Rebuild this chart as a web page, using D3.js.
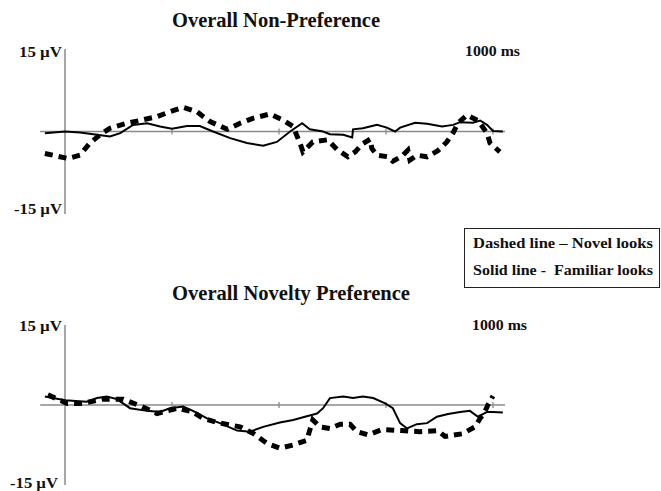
<!DOCTYPE html>
<html><head><meta charset="utf-8">
<script src="https://cdn.jsdelivr.net/npm/d3@7"></script>
<style>body{margin:0;background:#fff}svg{display:block}text{font-family:"Liberation Serif","Times New Roman",serif;font-weight:bold;fill:#111;white-space:pre}</style>
</head><body><svg id="c" width="661" height="491"></svg>
<script>
// ---- data (time in ms, amplitude in µV) ----
const titles = ["Overall Non-Preference", "Overall Novelty Preference"];
const yTickLabels = ["15 \u00b5V", "-15 \u00b5V"];
const timeLabel = "1000 ms";
const xTicks = [250, 500, 750, 1000];
const legendLabels = ["Dashed line \u2013 Novel looks", "Solid line -  Familiar looks"];

const nonPrefNovelT = [-47,7,35,58,82,105,145,175,215,245,276,308,339,379,409,439,479,509,533,549,556,579,614,636,661,678,694,713,717,729,755,766,787,801,806,822,846,871,892,907,918,939,965,986,993,1016];
const nonPrefNovelV = [-4.0,-4.9,-4.3,-2.1,-0.6,0.6,1.5,2.0,2.7,3.6,4.4,3.6,1.8,0.4,1.5,2.4,3.2,2.1,0.9,-2.1,-3.7,-1.9,-1.5,-3.3,-4.6,-3.7,-2.3,-1.4,-3.1,-4.3,-4.6,-5.4,-4.5,-3.4,-5.2,-4.3,-4.6,-3.5,-1.9,-0.2,1.5,3.0,2.0,-0.3,-2.1,-3.7];
const nonPrefFamT = [-47,0,35,75,105,129,159,192,222,250,285,315,346,386,425,463,495,526,554,572,603,619,650,671,673,696,729,752,771,783,818,846,881,907,923,953,970,986,1000,1023];
const nonPrefFamV = [-0.3,0,-0.2,-0.6,-0.9,-0.3,1.2,1.5,0.9,0.5,1.0,1.0,0,-1.2,-2.1,-2.6,-1.9,0,1.5,0.4,0,-0.5,-0.6,-1.1,0.4,0.6,1.2,0.7,0,0.7,1.6,1.4,0.9,1.2,1.7,1.6,2.0,1.2,0.1,0];

const novPrefNovelT = [-40,5,40,89,136,180,215,262,299,322,362,409,439,472,502,533,565,579,596,619,643,666,682,708,741,787,829,871,888,928,958,970,981,988,1000];
const novPrefNovelV = [1.9,0.3,0.3,1.1,1.1,-0.3,-1.6,-0.6,-1.3,-2.5,-3.4,-4.1,-5.3,-7.2,-8.1,-7.5,-6.6,-2.8,-4.1,-4.4,-3.6,-3.6,-5.0,-5.6,-4.6,-4.8,-5.0,-4.8,-5.9,-5.4,-4.1,-2.5,-1.3,0,1.7];
const novPrefFamT = [-47,0,51,75,98,121,152,192,222,245,276,299,332,362,402,432,463,502,533,565,589,603,619,650,673,696,720,748,766,783,799,822,846,869,895,923,946,965,986,1000,1023];
const novPrefFamV = [1.6,0.9,0.6,1.3,1.6,1.1,-0.6,-1.1,-1.3,-0.6,-0.3,-1.1,-2.5,-3.4,-4.8,-5.0,-4.1,-3.3,-2.8,-2.1,-1.6,-0.6,1.3,1.6,1.3,1.6,1.3,0.3,-0.6,-3.4,-4.4,-3.6,-3.4,-2.2,-1.7,-1.3,-1.1,-2.2,-1.3,-1.3,-1.4];

// ---- layout ----
const svg = d3.select("#c");
const x = d3.scaleLinear().domain([0, 1000]).range([65, 493]);
const xAxisExtent = [-58, 1028];

const panels = [
  {title: titles[0], top: 49, bottom: 214, titleY: 27, titleW: 208, labTopY: 57, labBotY: 214, labBotX: 14, novel: [nonPrefNovelT, nonPrefNovelV], fam: [nonPrefFamT, nonPrefFamV], msX: 465},
  {title: titles[1], top: 325, bottom: 485, titleY: 300, titleW: 238, labTopY: 331, labBotY: 488, labBotX: 10, novel: [novPrefNovelT, novPrefNovelV], fam: [novPrefFamT, novPrefFamV], msX: 472}
];

panels.forEach(p => {
  const y = d3.scaleLinear().domain([-15, 15]).range([p.bottom, p.top]);
  const g = svg.append("g");
  g.append("text").attr("x", 172).attr("y", p.titleY).attr("font-size", 20)
    .attr("textLength", p.titleW).attr("lengthAdjust", "spacingAndGlyphs").text(p.title);
  // y axis
  g.append("line").attr("x1", x(0)).attr("x2", x(0)).attr("y1", y(15)).attr("y2", y(-15))
    .attr("stroke", "#8a8a8a").attr("stroke-width", 1.5);
  // zero line
  g.append("line").attr("x1", x(xAxisExtent[0])).attr("x2", x(xAxisExtent[1])).attr("y1", y(0)).attr("y2", y(0))
    .attr("stroke", "#8a8a8a").attr("stroke-width", 1.3);
  g.selectAll(".tk").data(xTicks).join("line")
    .attr("x1", d => x(d)).attr("x2", d => x(d)).attr("y1", y(0) - 3).attr("y2", y(0) + 3)
    .attr("stroke", "#8a8a8a").attr("stroke-width", 1.3);
  g.append("text").attr("x", 19).attr("y", p.labTopY).attr("font-size", 14.5)
    .attr("textLength", 43).attr("lengthAdjust", "spacingAndGlyphs").text(yTickLabels[0]);
  g.append("text").attr("x", p.labBotX).attr("y", p.labBotY).attr("font-size", 14.5)
    .attr("textLength", 48).attr("lengthAdjust", "spacingAndGlyphs").text(yTickLabels[1]);
  g.append("text").attr("x", p.msX).attr("y", p.labTopY - 1).attr("font-size", 14.5)
    .attr("textLength", 55).attr("lengthAdjust", "spacingAndGlyphs").text(timeLabel);

  const line = d3.line().x(d => x(d[0])).y(d => y(d[1]));
  const fam = d3.zip(p.fam[0], p.fam[1]);
  const nov = d3.zip(p.novel[0], p.novel[1]);
  g.append("path").attr("d", line(fam)).attr("fill", "none").attr("stroke", "#000").attr("stroke-width", 2);
  g.append("path").attr("d", line(nov)).attr("fill", "none").attr("stroke", "#000")
    .attr("stroke-width", 5).attr("stroke-dasharray", "8,6");
});

// legend
const lg = svg.append("g");
lg.append("rect").attr("x", 464.5).attr("y", 228.5).attr("width", 195).attr("height", 59)
  .attr("fill", "#fff").attr("stroke", "#222").attr("stroke-width", 1);
lg.selectAll("text.l").data(legendLabels).join("text")
  .attr("x", 473).attr("y", (d, i) => 248 + i * 27).attr("font-size", 15)
  .attr("textLength", 180).attr("lengthAdjust", "spacingAndGlyphs").text(d => d);
</script></body></html>
